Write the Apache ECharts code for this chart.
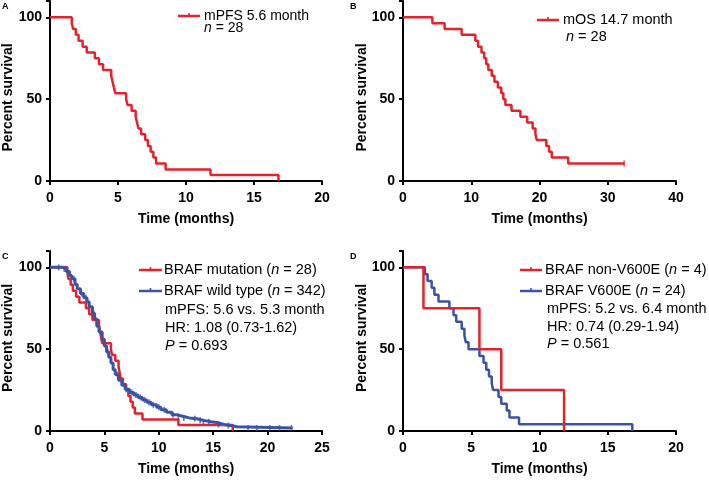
<!DOCTYPE html>
<html><head><meta charset="utf-8">
<script src="https://cdn.jsdelivr.net/npm/echarts@6/dist/echarts.min.js"></script>
<style>html,body{margin:0;padding:0;background:#fff}#c{width:709px;height:480px}</style>
</head><body><div id="c"></div><script>
const RED = '#e3232b', BLUE = '#3a53a4';
const FONT = '"Liberation Sans", Arial, sans-serif';

// Panel A: PFS, BRAF mutation (n = 28)
const pfsTimes = [0, 1.6, 1.7, 1.9, 2.1, 2.4, 2.7, 3.3, 3.6, 3.9, 4.5, 4.6, 4.7, 4.8, 5.6, 5.7, 6.0, 6.3, 6.4, 6.5, 6.7, 7.0, 7.2, 7.4, 7.6, 7.8, 8.5, 11.8, 16.8];
const pfsSurv  = [100, 96.4, 92.9, 89.3, 85.7, 82.1, 78.6, 75.0, 71.4, 67.9, 64.3, 60.7, 57.1, 53.6, 50.0, 46.4, 42.9, 39.3, 35.7, 32.1, 28.6, 25.0, 21.4, 17.9, 14.3, 10.7, 7.1, 3.6, 0];

// Panel B: OS (n = 28)
const osTimes = [0, 4.3, 6.1, 8.6, 10.6, 11.0, 11.5, 11.9, 12.2, 12.5, 13.0, 13.4, 13.9, 14.4, 14.7, 15.0, 15.9, 17.2, 18.2, 19.0, 19.4, 19.6, 21.0, 21.4, 21.8, 24.2, 32.4];
const osSurv  = [100, 96.4, 92.9, 89.3, 85.7, 82.1, 78.6, 75.0, 71.4, 67.9, 64.3, 60.7, 57.1, 53.6, 50.0, 46.4, 42.9, 39.3, 35.7, 32.1, 28.6, 25.0, 21.4, 17.9, 14.3, 10.7, 10.7];
const osCensor = [32.4];

// Panel C: BRAF wild type (n = 342)
const wtTimes = [0, 0.9, 1.2, 1.5, 1.8, 2.0, 2.3, 2.5, 2.8, 3.1, 3.4, 3.6, 3.9, 4.1, 4.3, 4.5, 4.8, 5.0, 5.2, 5.4, 5.6, 5.8, 6.0, 6.3, 6.6, 6.9, 7.3, 7.7, 8.1, 8.5, 8.9, 9.3, 9.8, 10.2, 10.7, 11.2, 11.6, 12.2, 12.8, 13.5, 14.1, 14.8, 15.5, 16.0, 16.6, 17.2, 22.3];
const wtSurv  = [100, 100, 99, 97.5, 95, 93, 89.5, 87, 84, 81.5, 79, 76, 72, 68.5, 64, 60.5, 56, 52, 48.5, 45, 41.5, 37.5, 34.5, 31, 28, 25.5, 23.5, 22, 20.5, 19, 17.5, 16, 14.5, 13, 11.5, 10, 9, 8, 7.5, 6.5, 5.7, 5, 4, 3.3, 2.6, 1.8, 1.8];
const wtCensor = [0.8, 1.3, 2.2, 2.9, 3.3, 4.0, 5.3, 6.2, 7.0, 7.5, 7.9, 8.3, 8.7, 9.1, 9.5, 10.0, 10.5, 11.3, 11.8, 12.3, 13.3, 13.8, 14.1, 14.6, 15.5, 16.4, 18.2, 19.0, 20.2, 21.1, 22.2];

// Panel D: non-V600E (n = 4) vs V600E (n = 24)
const nonTimes = [0, 1.5, 5.6, 7.2, 11.8];
const nonSurv  = [100, 75, 50, 25, 0];
const v6Times = [0, 1.6, 1.8, 2.1, 2.3, 2.6, 3.4, 3.7, 3.9, 4.3, 4.5, 4.6, 4.8, 5.6, 5.9, 6.1, 6.3, 6.5, 6.6, 7.0, 7.2, 7.6, 7.8, 8.5, 16.8];
const v6Surv  = [100, 95.8, 91.7, 87.5, 83.3, 79.2, 75, 70.8, 66.7, 62.5, 58.3, 54.2, 50, 45.8, 41.7, 37.5, 33.3, 29.2, 25, 20.8, 16.7, 12.5, 8.3, 4.2, 0];

const yTicks = [0, 50, 100];

function pairs(t, s) { return t.map((x, i) => [x, s[i]]); }
function lookup(t, s, x) { let v = s[0]; for (let i = 0; i < t.length; i++) { if (t[i] <= x) v = s[i]; } return v; }

const grids = [
  {left: 50, top: 1, width: 272, height: 180},
  {left: 403, top: 1, width: 273, height: 180},
  {left: 50, top: 251, width: 272, height: 180},
  {left: 403, top: 251, width: 273, height: 180}
];
const xMax = [20, 40, 25, 20], xInt = [5, 10, 5, 5];
const axLine = {show: true, lineStyle: {color: '#000', width: 2}};
const axTick = {show: true, length: 4, lineStyle: {color: '#000', width: 2}};
const lab = {color: '#000', fontSize: 14, fontWeight: 'bold', fontFamily: FONT};

const xAxis = grids.map((g, i) => ({
  type: 'value', gridIndex: i, min: 0, max: xMax[i], interval: xInt[i],
  axisLine: axLine, axisTick: axTick, splitLine: {show: false},
  axisLabel: Object.assign({margin: 10}, lab),
  name: 'Time (months)', nameLocation: 'middle', nameGap: 31,
  nameTextStyle: lab
}));
const yAxis = grids.map((g, i) => ({
  type: 'value', gridIndex: i, min: 0, max: 110, interval: 50,
  axisLine: axLine, axisTick: axTick, splitLine: {show: false},
  axisLabel: Object.assign({margin: 8, formatter: v => yTicks.includes(v) ? String(v) : ''}, lab)
}));

function stepSeries(i, t, s, color, w, z) {
  return {type: 'line', xAxisIndex: i, yAxisIndex: i, step: 'end', data: pairs(t, s),
    showSymbol: false, symbol: 'none', z: z || 2, lineStyle: {color: color, width: w}, silent: true, animation: false};
}
function censorSeries(i, t, s, times, color) {
  return {type: 'scatter', xAxisIndex: i, yAxisIndex: i, data: times.map(x => [x, lookup(t, s, x)]),
    symbol: 'rect', symbolSize: [1.6, 6], itemStyle: {color: color}, z: 4, silent: true, animation: false};
}

const series = [
  stepSeries(0, pfsTimes, pfsSurv, RED, 2.5),
  stepSeries(1, osTimes, osSurv, RED, 2.5),
  censorSeries(1, osTimes, osSurv, osCensor, RED),
  stepSeries(2, pfsTimes, pfsSurv, RED, 2.5, 2),
  stepSeries(2, wtTimes, wtSurv, BLUE, 3, 3),
  censorSeries(2, wtTimes, wtSurv, wtCensor, BLUE),
  stepSeries(3, nonTimes, nonSurv, RED, 2.5, 3),
  stepSeries(3, v6Times, v6Surv, BLUE, 2.5, 2)
];

const G = [];
function txt(x, y, text, size) {
  const fs = size || 14.5;
  G.push({type: 'text', x: x, y: y, style: {text: text, fill: '#000', font: fs + 'px ' + FONT,
    align: 'left', verticalAlign: 'middle', rich: {i: {fontStyle: 'italic', fontSize: fs, fontFamily: FONT}}}});
}
function legLine(x1, x2, y, color) {
  G.push({type: 'line', shape: {x1: x1, y1: y, x2: x2, y2: y}, style: {stroke: color, lineWidth: 2.5}});
  const m = (x1 + x2) / 2;
  G.push({type: 'line', shape: {x1: m, y1: y - 3, x2: m, y2: y + 1}, style: {stroke: color, lineWidth: 1.6}});
}
function ytitle(x, y) {
  G.push({type: 'text', x: x, y: y, rotation: Math.PI / 2,
    style: {text: 'Percent survival', fill: '#000', font: 'bold 14px ' + FONT, align: 'center', verticalAlign: 'middle'}});
}
// panel letters
[['A', 2, 7], ['B', 350, 7], ['C', 2, 257], ['D', 350, 257]].forEach(a =>
  G.push({type: 'text', x: a[1], y: a[2], style: {text: a[0], fill: '#000', font: 'bold 9px ' + FONT, align: 'left', verticalAlign: 'middle'}}));
ytitle(8, 97.5); ytitle(362, 97.5); ytitle(8, 338); ytitle(362, 338);

// A legend
legLine(178, 200, 16, RED);
txt(204, 16, 'mPFS 5.6 month', 14);
txt(204, 28, '{i|n} = 28', 14);
// B legend
legLine(537, 559, 20, RED);
txt(563, 20, 'mOS 14.7 month');
txt(566, 37, '{i|n} = 28');
// C legend
legLine(139, 162, 270, RED);
txt(164, 270, 'BRAF mutation ({i|n} = 28)');
legLine(139, 162, 291, BLUE);
txt(164, 291, 'BRAF wild type ({i|n} = 342)');
txt(165, 310, 'mPFS: 5.6 vs. 5.3 month');
txt(165, 328, 'HR: 1.08 (0.73-1.62)');
txt(165, 346, '{i|P} = 0.693');
// D legend
legLine(520, 542, 270, RED);
txt(545, 270, 'BRAF non-V600E ({i|n} = 4)');
legLine(520, 542, 291, BLUE);
txt(545, 291, 'BRAF V600E ({i|n} = 24)');
txt(547, 309, 'mPFS: 5.2 vs. 6.4 month');
txt(547, 327, 'HR: 0.74 (0.29-1.94)');
txt(547, 344, '{i|P} = 0.561');

const chart = echarts.init(document.getElementById('c'), null, {renderer: 'canvas'});
chart.setOption({
  animation: false,
  backgroundColor: '#fff',
  textStyle: {fontFamily: FONT},
  grid: grids,
  xAxis: xAxis,
  yAxis: yAxis,
  series: series,
  graphic: G
});
</script></body></html>
